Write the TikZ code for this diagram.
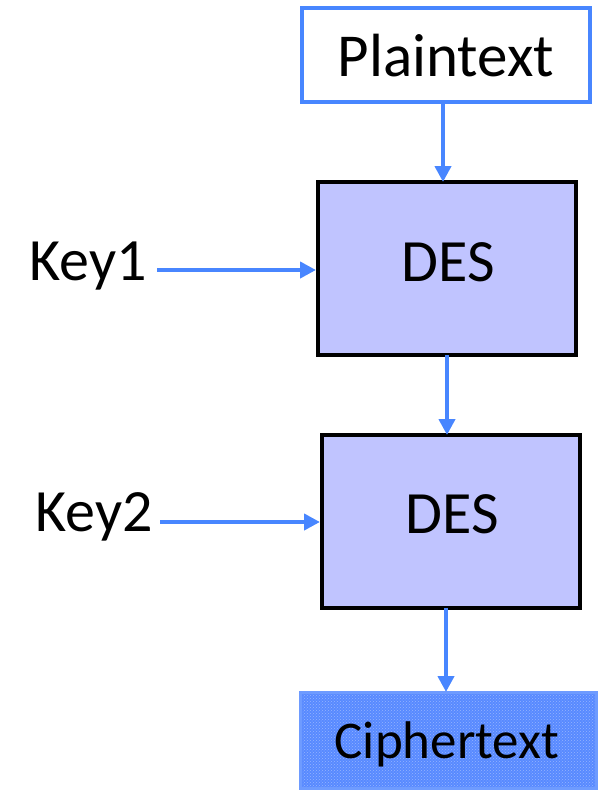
\documentclass[tikz,border=0pt]{standalone}
\usepackage{fontspec}
\setmainfont{Carlito}
\usetikzlibrary{arrows.meta,patterns}
\definecolor{arrowblue}{RGB}{72,134,255}
\definecolor{desfill}{RGB}{192,196,255}
\definecolor{cipherfill}{RGB}{88,138,255}
\definecolor{cipherdots}{RGB}{150,180,255}
\definecolor{cipherborder}{RGB}{110,155,255}
\tikzset{
  x=1pt,y=-1pt,
  plainbox/.style={draw=arrowblue,line width=4.5pt,fill=white,inner sep=0pt},
  desbox/.style={draw=black,line width=4.5pt,fill=desfill,inner sep=0pt},
  cipherbox/.style={draw=cipherborder,line width=3pt,preaction={fill=cipherfill},pattern=crosshatch dots,pattern color=cipherdots,inner sep=0pt},
  flow/.style={draw=arrowblue,line width=4.5pt,-{Triangle[length=16pt,width=16pt]}},
  lbl/.style={font=\fontsize{60}{68}\selectfont,inner sep=0pt}
}
\begin{document}
\begin{tikzpicture}
\useasboundingbox (0,0) rectangle (601,790);
% boxes
\draw[plainbox] (302,8) rectangle (590,102);
\node[lbl,font=\fontsize{61}{68}\selectfont] (ptl) at (446,56) {Plaintext};
\draw[desbox] (318,182) rectangle (576,355);
\node[lbl] (d1) at (448,262) {DES};
\draw[desbox] (322,435) rectangle (580,608);
\node[lbl] (d2) at (452,514) {DES};
\draw[cipherbox] (300,692) rectangle (596,788);
\node[lbl,font=\fontsize{53}{60}\selectfont] (ct) at (447,744) {Ciphertext};
\node[lbl] (k1) at (88,266) {Key1};
\node[lbl] (k2) at (94,517) {Key2};
% connector anchors
\coordinate (ptb) at (443,102);
\coordinate (d1t) at (443,182);
\coordinate (d1b) at (447,355);
\coordinate (d2t) at (447,435);
\coordinate (d2b) at (446,608);
\coordinate (ctt) at (446,692);
\coordinate (k1e) at (157,270);
\coordinate (d1l) at (316,270);
\coordinate (k2e) at (160,522);
\coordinate (d2l) at (320,522);
\draw[flow] (ptb) -- (d1t);
\draw[flow] (d1b) -- (d2t);
\draw[flow] (d2b) -- (ctt);
\draw[flow] (k1e) -- (d1l);
\draw[flow] (k2e) -- (d2l);
\end{tikzpicture}
\end{document}
